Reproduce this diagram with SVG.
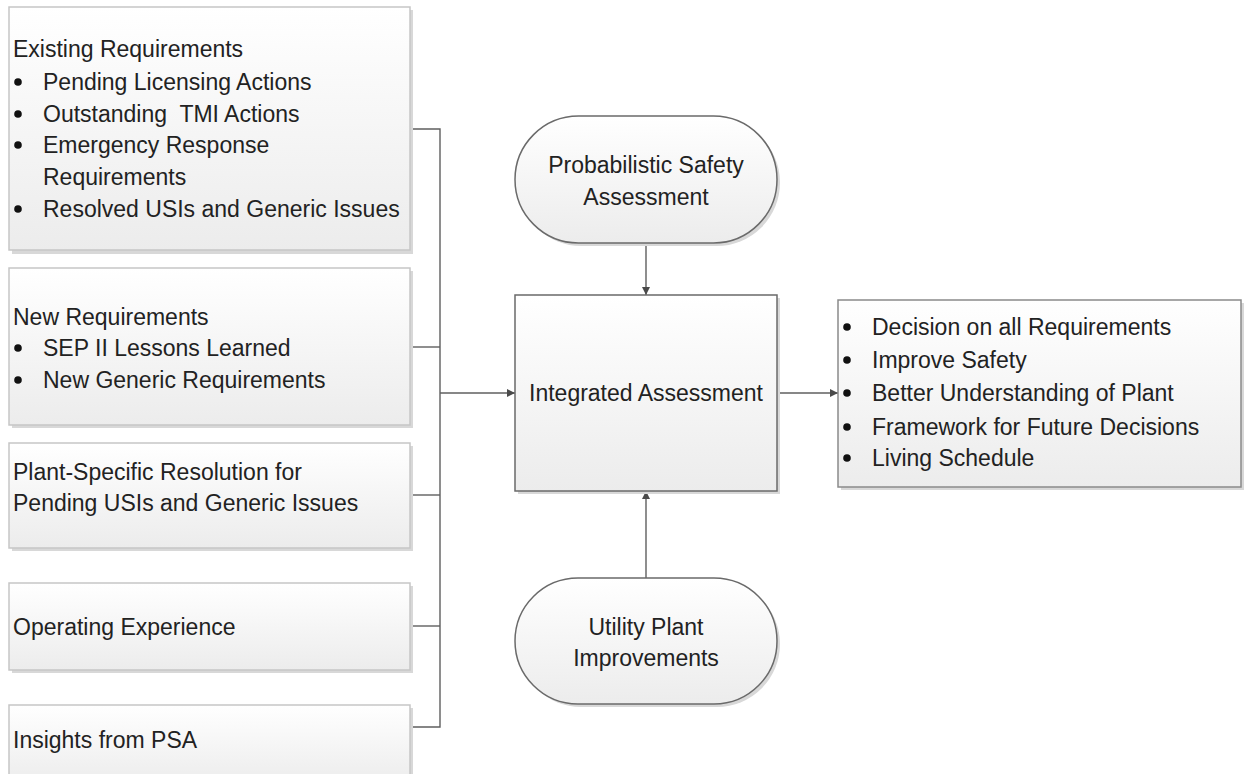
<svg xmlns="http://www.w3.org/2000/svg" width="1244" height="774" viewBox="0 0 1244 774">
<style>
  text { font-family: "Liberation Sans", Arial, sans-serif; font-size: 23px; fill: #222222; white-space: pre; }
  .c { text-anchor: middle; }
  .src { fill: url(#g); stroke: #c6c6c6; stroke-width: 1.5; }
  .main { fill: url(#g); stroke: #6a6a6a; stroke-width: 1.5; }
  .out { fill: url(#g); stroke: #8a8a8a; stroke-width: 1.5; }
  .sh { fill: #d8d8d8; }
  .conn { fill: none; stroke: #5f5f5f; stroke-width: 1.4; }
  .dot { fill: #111; }
</style>
<defs>
  <linearGradient id="g" x1="0" y1="0" x2="0" y2="1">
    <stop offset="0" stop-color="#ffffff"/>
    <stop offset="1" stop-color="#ececec"/>
  </linearGradient>
  <marker id="arr" viewBox="0 0 10 10" refX="10" refY="5" markerWidth="8" markerHeight="8" markerUnits="userSpaceOnUse" orient="auto">
    <path d="M0,0 L10,5 L0,10 z" fill="#4a4a4a"/>
  </marker>
</defs>
<rect width="1244" height="774" fill="#ffffff"/>

<g id="connectors">
  <path class="conn" d="M411,129 H440 V727 H411"/>
  <path class="conn" d="M411,347 H440"/>
  <path class="conn" d="M411,495 H440"/>
  <path class="conn" d="M411,626 H440"/>
  <path class="conn" d="M440,393 H515" marker-end="url(#arr)"/>
  <path class="conn" d="M646,243 V295" marker-end="url(#arr)"/>
  <path class="conn" d="M646,578 V491" marker-end="url(#arr)"/>
  <path class="conn" d="M777,393 H838" marker-end="url(#arr)"/>
</g>

<g id="existing">
  <rect class="sh" x="12" y="10" width="401" height="244"/>
  <rect class="src" x="9" y="7" width="401" height="243"/>
  <text x="13" y="57">Existing Requirements</text>
  <circle class="dot" cx="18" cy="82" r="3.8"/>
  <text x="43" y="90">Pending Licensing Actions</text>
  <circle class="dot" cx="18" cy="114" r="3.8"/>
  <text x="43" y="122" xml:space="preserve">Outstanding  TMI Actions</text>
  <circle class="dot" cx="18" cy="145" r="3.8"/>
  <text x="43" y="153">Emergency Response</text>
  <text x="43" y="185">Requirements</text>
  <circle class="dot" cx="18" cy="209" r="3.8"/>
  <text x="43" y="217">Resolved USIs and Generic Issues</text>
</g>

<g id="new">
  <rect class="sh" x="12" y="271" width="401" height="157"/>
  <rect class="src" x="9" y="268" width="401" height="157"/>
  <text x="13" y="325">New Requirements</text>
  <circle class="dot" cx="18" cy="348" r="3.8"/>
  <text x="43" y="356">SEP II Lessons Learned</text>
  <circle class="dot" cx="18" cy="380" r="3.8"/>
  <text x="43" y="388">New Generic Requirements</text>
</g>

<g id="plant-specific">
  <rect class="sh" x="12" y="446" width="401" height="105"/>
  <rect class="src" x="9" y="443" width="401" height="105"/>
  <text x="13" y="480">Plant-Specific Resolution for</text>
  <text x="13" y="511">Pending USIs and Generic Issues</text>
</g>

<g id="operating">
  <rect class="sh" x="12" y="586" width="401" height="87"/>
  <rect class="src" x="9" y="583" width="401" height="87"/>
  <text x="13" y="635">Operating Experience</text>
</g>

<g id="insights">
  <rect class="sh" x="12" y="708" width="401" height="80"/>
  <rect class="src" x="9" y="705" width="401" height="80"/>
  <text x="13" y="748">Insights from PSA</text>
</g>

<g id="psa">
  <rect class="sh" x="518" y="119" width="262" height="127" rx="63.5"/>
  <rect class="main" x="515" y="116" width="262" height="127" rx="63.5"/>
  <text class="c" x="646" y="173">Probabilistic Safety</text>
  <text class="c" x="646" y="205">Assessment</text>
</g>

<g id="integrated">
  <rect class="sh" x="518" y="298" width="262" height="196"/>
  <rect class="main" x="515" y="295" width="262" height="196"/>
  <text class="c" x="646" y="401">Integrated Assessment</text>
</g>

<g id="utility">
  <rect class="sh" x="518" y="581" width="262" height="126" rx="63"/>
  <rect class="main" x="515" y="578" width="262" height="126" rx="63"/>
  <text class="c" x="646" y="635">Utility Plant</text>
  <text class="c" x="646" y="666">Improvements</text>
</g>

<g id="outcomes">
  <rect class="sh" x="841" y="303" width="403" height="187"/>
  <rect class="out" x="838" y="300" width="403" height="187"/>
  <circle class="dot" cx="847" cy="327" r="3.8"/>
  <text x="872" y="335">Decision on all Requirements</text>
  <circle class="dot" cx="847" cy="360" r="3.8"/>
  <text x="872" y="368">Improve Safety</text>
  <circle class="dot" cx="847" cy="393" r="3.8"/>
  <text x="872" y="401">Better Understanding of Plant</text>
  <circle class="dot" cx="847" cy="427" r="3.8"/>
  <text x="872" y="435">Framework for Future Decisions</text>
  <circle class="dot" cx="847" cy="458" r="3.8"/>
  <text x="872" y="466">Living Schedule</text>
</g>
</svg>
